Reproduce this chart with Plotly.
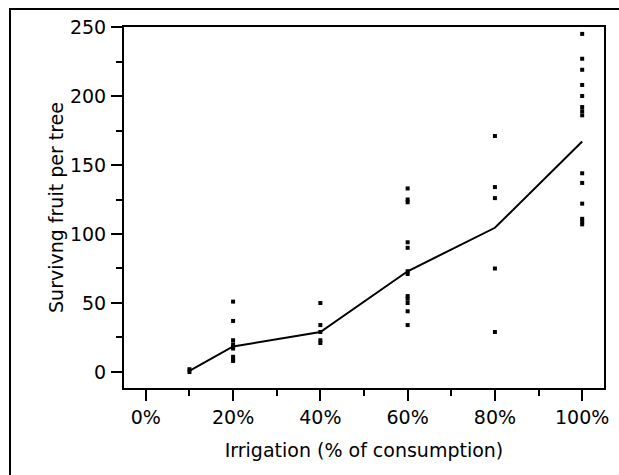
import plotly.graph_objects as go

# Irrigation levels (% of consumption) and surviving fruit counts per tree
irrigation_levels = [10, 20, 40, 60, 80, 100]
fruit_10 = [2, 0]
fruit_20 = [51, 37, 23, 20, 18, 17, 11, 9, 8]
fruit_40 = [50, 34, 29, 23, 21]
fruit_60 = [133, 125, 123, 94, 90, 73, 71, 55, 53, 50, 44, 34]
fruit_80 = [171, 134, 126, 75, 29]
fruit_100 = [245, 227, 219, 208, 200, 192, 189, 186, 144, 137, 122, 111, 109, 107]

# Mean fruit per tree at each irrigation level
mean_fruit = [0.8, 18.5, 29, 73, 104.5, 167]

x_tick_vals = [0, 20, 40, 60, 80, 100]
x_tick_text = ["0%", "20%", "40%", "60%", "80%", "100%"]
y_tick_vals = [0, 50, 100, 150, 200, 250]

groups = [fruit_10, fruit_20, fruit_40, fruit_60, fruit_80, fruit_100]
pts_x, pts_y = [], []
for lvl, vals in zip(irrigation_levels, groups):
    pts_x += [lvl] * len(vals)
    pts_y += vals

FONT = "DejaVu Sans"

fig = go.Figure()
fig.add_trace(go.Scatter(
    x=pts_x, y=pts_y, mode="markers",
    marker=dict(symbol="square", size=4, color="black", line=dict(width=0)),
    showlegend=False, hoverinfo="x+y",
))
fig.add_trace(go.Scatter(
    x=irrigation_levels, y=mean_fruit, mode="lines",
    line=dict(color="black", width=2),
    showlegend=False,
))

axis_common = dict(
    showgrid=False, zeroline=False, showline=True, linecolor="black",
    linewidth=2, mirror=True, ticks="outside", tickcolor="black",
    tickwidth=2, ticklen=11,
    tickfont=dict(family=FONT, size=19, color="black"),
)

fig.update_xaxes(
    range=[-5, 105], tickvals=x_tick_vals, ticktext=x_tick_text,
    minor=dict(tickvals=[10, 30, 50, 70, 90], ticks="outside", ticklen=6,
               tickwidth=2, tickcolor="black"),
    title=dict(text="Irrigation (% of consumption)", standoff=17,
               font=dict(family=FONT, size=19, color="black")),
    ticklabelstandoff=0,
    **axis_common,
)
fig.update_yaxes(
    range=[-11.6, 250], tickvals=y_tick_vals,
    minor=dict(tickvals=[25, 75, 125, 175, 225], ticks="outside", ticklen=6,
               tickwidth=2, tickcolor="black"),
    title=dict(text="Survivng fruit per tree", standoff=1,
               font=dict(family=FONT, size=19, color="black")),
    ticklabelstandoff=1,
    **axis_common,
)

# Outer frame around the whole figure (runs off the right and bottom edges)
fig.add_shape(type="rect", xref="paper", yref="paper",
              x0=-0.2375, x1=1.2, y0=-0.35, y1=1.0499,
              line=dict(color="black", width=2), fillcolor="rgba(0,0,0,0)",
              layer="below")

fig.update_layout(
    width=619, height=475,
    margin=dict(l=124, r=15, t=27, b=87, autoexpand=False),
    paper_bgcolor="white", plot_bgcolor="white",
    font=dict(family=FONT, color="black"),
)

fig.write_html("out.html", config={"displayModeBar": False})
